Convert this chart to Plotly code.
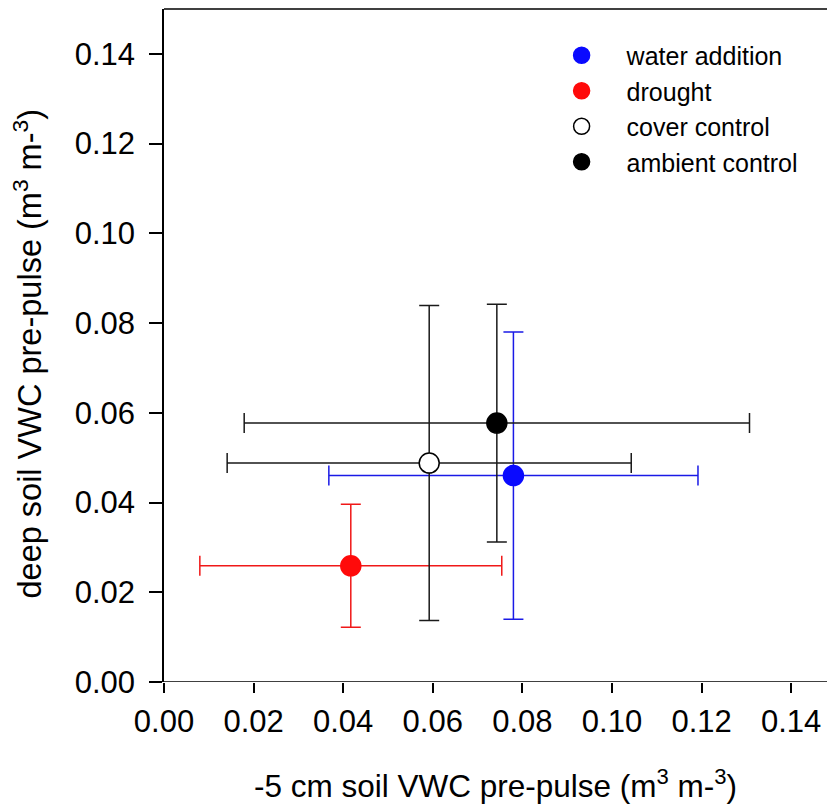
import plotly.graph_objects as go

# Treatment means and error half-widths (m3 m-3)
treatments = ["water addition", "drought", "cover control", "ambient control"]
shallow_vwc = [0.0780, 0.0417, 0.0592, 0.0743]   # -5 cm soil VWC
deep_vwc = [0.0460, 0.0259, 0.0488, 0.0577]      # deep soil VWC
shallow_err = [0.0412, 0.0337, 0.0451, 0.0564]
deep_err = [0.0320, 0.0137, 0.0351, 0.0265]

fill_colors = ["#0a0aff", "#ff0a0a", "white", "black"]
bar_colors = ["#1a1ae6", "#f01818", "#1a1a1a", "#1a1a1a"]
edge_colors = ["#0a0aff", "#ff0a0a", "black", "black"]

x_ticks = [0.00, 0.02, 0.04, 0.06, 0.08, 0.10, 0.12, 0.14]
y_ticks = [0.00, 0.02, 0.04, 0.06, 0.08, 0.10, 0.12, 0.14]

x_title = "-5 cm soil VWC pre-pulse (m<sup>3</sup> m-<sup>3</sup>)"
y_title = "deep soil VWC pre-pulse (m<sup>3</sup> m-<sup>3</sup>)"

FONT = "Liberation Sans, Arial, sans-serif"

fig = go.Figure()
for i, name in enumerate(treatments):
    fig.add_trace(go.Scatter(
        x=[shallow_vwc[i]], y=[deep_vwc[i]],
        mode="markers", name=name,
        marker=dict(size=20, color=fill_colors[i],
                    line=dict(color=edge_colors[i], width=1.5)),
        error_x=dict(type="data", array=[shallow_err[i]], symmetric=True,
                     color=bar_colors[i], thickness=1.5, width=10),
        error_y=dict(type="data", array=[deep_err[i]], symmetric=True,
                     color=bar_colors[i], thickness=1.5, width=10),
        hoverinfo="skip",
    ))

fig.update_layout(
    template="none",
    width=827, height=807,
    margin=dict(l=164, r=0, t=9, b=125, autoexpand=False),
    paper_bgcolor="white", plot_bgcolor="white",
    font=dict(family=FONT, color="black", size=25),
    showlegend=True,
    legend=dict(x=0.562, y=0.965, xanchor="left", yanchor="top",
                bgcolor="rgba(0,0,0,0)", borderwidth=0,
                font=dict(family=FONT, size=25, color="black"),
                itemwidth=80, tracegroupgap=0),
    xaxis=dict(
        range=[0, 0.148], showgrid=False, zeroline=False, showline=False,
        tickmode="array", tickvals=x_ticks, tickformat=".2f",
        ticks="outside", ticklen=10, tickwidth=1.5, tickcolor="black",
        ticklabelstandoff=2,
        tickfont=dict(family=FONT, size=31, color="black"),
        title=dict(text=x_title,
                   font=dict(family=FONT, size=31.5, color="black"), standoff=36),
    ),
    yaxis=dict(
        range=[0, 0.150], showgrid=False, zeroline=False,
        showline=True, linecolor="black", linewidth=1.5,
        tickmode="array", tickvals=y_ticks, tickformat=".2f",
        ticks="outside", ticklen=13, tickwidth=1.5, tickcolor="black",
        ticklabelstandoff=8,
        tickfont=dict(family=FONT, size=31, color="black"),
    ),
)

# Vertical axis title, placed as a rotated annotation left of the tick labels
fig.add_annotation(
    text=y_title, textangle=-90, showarrow=False,
    xref="paper", yref="paper", x=0, y=0.5,
    xanchor="center", yanchor="middle", xshift=-137, yshift=-9,
    font=dict(family=FONT, size=32.5, color="black"),
)

# Bottom axis line, running slightly past the origin on the left
fig.add_shape(type="line", xref="paper", yref="y",
              x0=-13 / 663, x1=1, y0=0, y1=0,
              line=dict(color="black", width=1.5), layer="above")
# Top frame line
fig.add_shape(type="line", xref="paper", yref="paper",
              x0=0, x1=1, y0=1, y1=1,
              line=dict(color="black", width=1.5), layer="above")

fig.write_html("out.html")
